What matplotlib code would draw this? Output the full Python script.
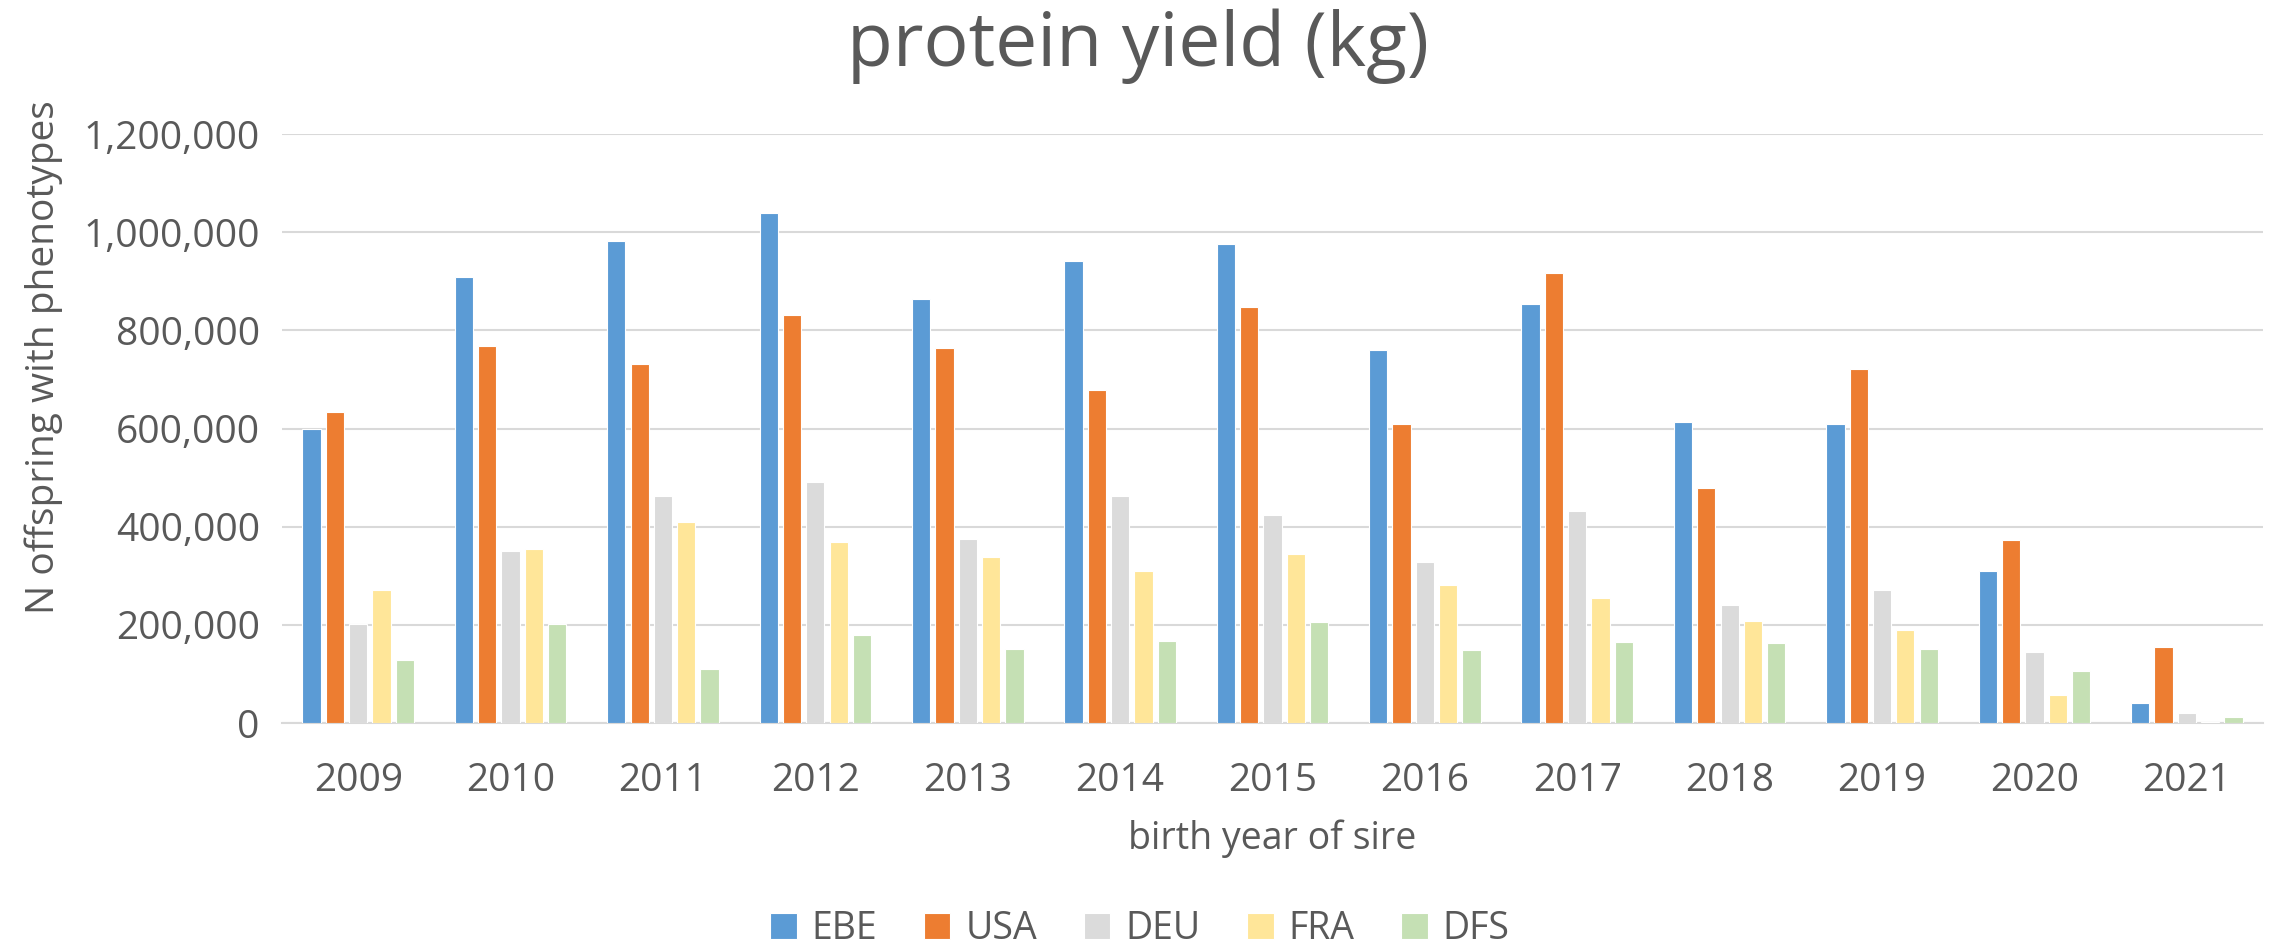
import matplotlib
matplotlib.use("Agg")
import matplotlib.pyplot as plt
import numpy as np
from matplotlib.ticker import FuncFormatter

years = ["2009", "2010", "2011", "2012", "2013", "2014", "2015",
         "2016", "2017", "2018", "2019", "2020", "2021"]
series_names = ["EBE", "USA", "DEU", "FRA", "DFS"]
EBE = [600000, 908000, 981000, 1039000, 863000, 941000, 976000, 759000, 853000, 613000, 610000, 310000, 40000]
USA = [634000, 768000, 732000, 831000, 764000, 678000, 847000, 609000, 916000, 478000, 722000, 372000, 154000]
DEU = [201000, 351000, 463000, 490000, 374000, 462000, 424000, 328000, 431000, 240000, 270000, 145000, 21000]
FRA = [271000, 354000, 409000, 369000, 338000, 310000, 345000, 282000, 255000, 208000, 189000, 57000, 3000]
DFS = [129000, 202000, 109000, 179000, 150000, 168000, 206000, 149000, 165000, 163000, 150000, 106000, 13000]
colors = ["#5B9BD5", "#ED7D31", "#DBDBDB", "#FFE699", "#C5E0B4"]

TXT = "#595959"
W, H = 2277, 951
fig = plt.figure(figsize=(W / 100, H / 100), dpi=100)
ax = fig.add_axes([282 / W, 1 - 723 / H, (2263 - 282) / W, (723 - 134) / H])

x = np.arange(len(years))
bw = 0.12
step = 0.153
data = [EBE, USA, DEU, FRA, DFS]
for i, (name, vals, c) in enumerate(zip(series_names, data, colors)):
    off = (i - 2) * step
    ax.bar(x + off, vals, width=bw, color=c, edgecolor="white", linewidth=0.8,
           label=name, zorder=3)

ax.set_xlim(-0.5, len(years) - 0.5)
ax.set_ylim(0, 1200000)
ax.set_yticks(np.arange(0, 1200001, 200000))
ax.yaxis.set_major_formatter(FuncFormatter(lambda v, p: f"{int(v):,}"))
ax.set_xticks(x)
ax.set_xticklabels(years)
ax.grid(axis="y", color="#D9D9D9", linewidth=1.5, zorder=0)
for s in ["top", "right", "left"]:
    ax.spines[s].set_visible(False)
ax.spines["bottom"].set_color("#D9D9D9")
ax.spines["bottom"].set_linewidth(1.5)
ax.tick_params(axis="both", length=0, colors=TXT, labelsize=28)
ax.tick_params(axis="x", pad=28)
ax.tick_params(axis="y", pad=16)
for lab in ax.get_xticklabels() + ax.get_yticklabels():
    lab.set_fontfamily("Open Sans")

fig.text(1138 / W, 1 - 46 / H, "protein yield (kg)", ha="center", va="center",
         fontsize=54, color=TXT, family="Open Sans")
fig.text(1272 / W, 1 - 839 / H, "birth year of sire", ha="center", va="center",
         fontsize=27, color=TXT, family="Open Sans")
fig.text(44 / W, 1 - 357 / H, "N offspring with phenotypes", ha="center", va="center",
         rotation=90, fontsize=28, color=TXT, family="Open Sans")

leg = fig.legend(loc="center", bbox_to_anchor=(1140 / W, 1 - 929 / H), ncol=5,
                 frameon=False, handlelength=0.7, handleheight=0.7,
                 handletextpad=0.4, columnspacing=1.25,
                 prop={"family": "Open Sans", "size": 27})
for t in leg.get_texts():
    t.set_color(TXT)

fig.savefig("out.png", dpi=100, facecolor="white")
